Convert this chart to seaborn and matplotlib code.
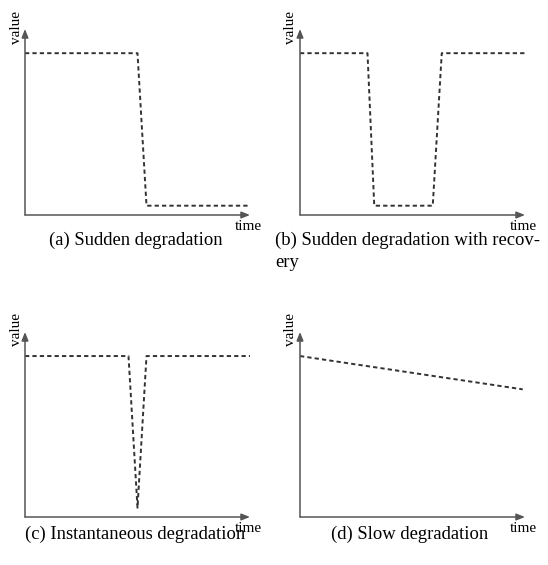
import matplotlib
matplotlib.use("Agg")
import matplotlib.pyplot as plt
import seaborn as sns
import pandas as pd

sns.set_style("white")
plt.rcParams['font.family'] = ['Liberation Serif', 'DejaVu Serif']
plt.rcParams['text.color'] = 'black'

# ---- data ----
a_time = [0, 50, 54, 100]
a_value = [87, 87, 5, 5]

b_time = [0, 30, 33, 59, 63, 100]
b_value = [87, 87, 5, 5, 87, 87]

c_time = [0, 46, 50, 54, 100]
c_value = [87, 87, 5, 87, 87]

d_time = [0, 99]
d_value = [87, 69]

captions = ["(a) Sudden degradation",
            "(b) Sudden degradation with recov-\nery",
            "(c) Instantaneous degradation",
            "(d) Slow degradation"]

W, H = 548, 565
fig = plt.figure(figsize=(W / 100, H / 100), dpi=100)

# axes boxes in pixels: (left, top, right, bottom)
boxes = [(25, 29, 250, 215), (300, 29, 525, 215),
         (25, 332, 250, 517), (300, 332, 525, 517)]
series = [(a_time, a_value), (b_time, b_value), (c_time, c_value), (d_time, d_value)]

line_color = "#333333"
axis_color = "#555555"

for i, ((l, t, r, b), (xs, ys)) in enumerate(zip(boxes, series)):
    ax = fig.add_axes([l / W, 1 - b / H, (r - l) / W, (b - t) / H])
    df = pd.DataFrame({"time": xs, "value": ys})
    sns.lineplot(data=df, x="time", y="value", ax=ax, sort=False,
                 color=line_color, linewidth=1.4, linestyle=(0, (2.2, 1.6)))
    ax.set_xlim(0, 100)
    ax.set_ylim(0, 100)
    ax.set_xticks([])
    ax.set_yticks([])
    ax.set_xlabel("")
    ax.set_ylabel("")
    for s in ax.spines.values():
        s.set_visible(False)
    ax.patch.set_alpha(0)
    arrow = dict(arrowstyle="-|>,head_length=0.5,head_width=0.2", lw=1.1,
                 color=axis_color, shrinkA=0, shrinkB=0)
    ax.annotate("", xy=(1, 0), xytext=(0, 0), xycoords="axes fraction",
                textcoords="axes fraction", arrowprops=arrow, annotation_clip=False)
    ax.annotate("", xy=(0, 1), xytext=(0, 0), xycoords="axes fraction",
                textcoords="axes fraction", arrowprops=arrow, annotation_clip=False)
    # axis labels
    fig.text((l - 9) / W, 1 - (t - 2) / H, "value", rotation=90,
             ha="center", va="center", fontsize=11)
    fig.text((r - 2) / W, 1 - (b + 11) / H, "time",
             ha="center", va="center", fontsize=11)

# captions
fs = 13.4
fig.text(136 / W, 1 - 240 / H, captions[0], ha="center", va="center", fontsize=fs)
fig.text(275 / W, 1 - 240 / H, captions[1].split("\n")[0], ha="left", va="center", fontsize=fs)
fig.text(275 / W, 1 - 263 / H, captions[1].split("\n")[1], ha="left", va="center", fontsize=fs)
fig.text(135 / W, 1 - 534 / H, captions[2], ha="center", va="center", fontsize=fs)
fig.text(410 / W, 1 - 534 / H, captions[3], ha="center", va="center", fontsize=fs)

fig.savefig("out.png", dpi=100)
